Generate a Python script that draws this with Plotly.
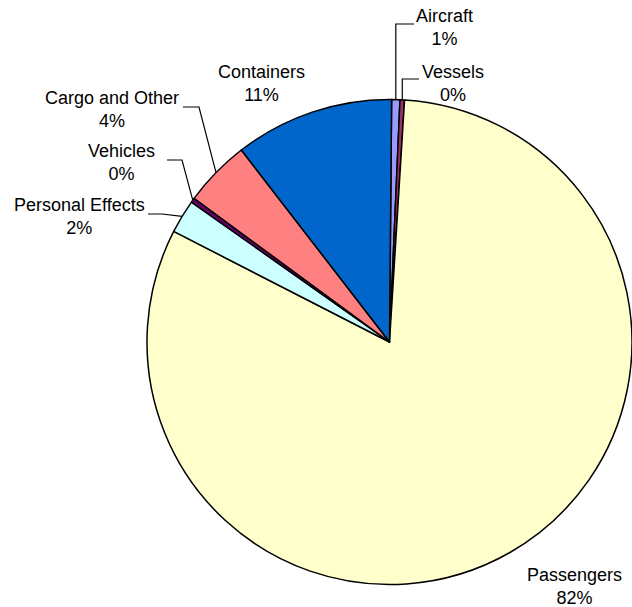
import math
import plotly.graph_objects as go

# Share of inspections by category (percent), in plotting order (clockwise from 12 o'clock)
categories = ["Aircraft", "Vessels", "Passengers", "Personal Effects",
              "Vehicles", "Cargo and Other", "Containers"]
shares = [0.55, 0.3, 81.55, 2.25, 0.3, 4.45, 10.6]
colors = ["#9999FF", "#993366", "#FFFFCC", "#CCFFFF", "#660066", "#FF8080", "#0066CC"]

W, H = 632, 607
START_DEG = 0.5

# pie placement in pixels
PIE_LEFT, PIE_RIGHT = 147, 632
CY = 342
R = (PIE_RIGHT - PIE_LEFT) / 2
CX = (PIE_LEFT + PIE_RIGHT) / 2

FONT = dict(family="Liberation Sans, Arial, sans-serif", size=18, color="#000000")

# label centres (px) and leader-line start/elbow points (px)
label_pos = {
    "Aircraft": (444, 27.5),
    "Vessels": (453, 84),
    "Containers": (261, 84),
    "Cargo and Other": (112, 109),
    "Vehicles": (121.5, 162.5),
    "Personal Effects": (79, 216),
    "Passengers": (574.5, 586),
}
leaders = {
    "Aircraft": {"start": (414, 24), "vertical": True},
    "Vessels": {"start": (419, 79), "vertical": True},
    "Cargo and Other": {"start": (183, 107), "elbow": (199, 107)},
    "Vehicles": {"start": (167, 160), "elbow": (182, 160)},
    "Personal Effects": {"start": (148, 214), "elbow": (162, 214)},
}


def px(x, y):
    return x / W, 1 - y / H


total = sum(shares)
mid_angle = {}
acc = 0.0
for name, v in zip(categories, shares):
    mid_angle[name] = START_DEG + (acc + v / 2) / total * 360
    acc += v

fig = go.Figure(go.Pie(
    labels=categories,
    values=shares,
    sort=False,
    direction="clockwise",
    rotation=START_DEG,
    marker=dict(colors=colors, line=dict(color="#000000", width=1.5)),
    textinfo="none",
    hoverinfo="label+percent",
    showlegend=False,
    domain=dict(x=[PIE_LEFT / W, PIE_RIGHT / W],
                y=[1 - (CY + R) / H, 1 - (CY - R) / H]),
))

annotations = []
for name, v in zip(categories, shares):
    lx, ly = label_pos[name]
    pct = round(v / total * 100)
    ax, ay = px(lx, ly)
    annotations.append(dict(
        x=ax, y=ay, xref="paper", yref="paper",
        text=f"{name}<br>{pct}%", showarrow=False,
        xanchor="center", yanchor="middle", font=FONT,
    ))

shapes = []
for name, spec in leaders.items():
    a = math.radians(mid_angle[name])
    tx, ty = CX + R * math.sin(a), CY - R * math.cos(a)
    sx, sy = spec["start"]
    if spec.get("vertical"):
        ex, ey = tx, sy
    else:
        ex, ey = spec["elbow"]
    pts = [px(sx, sy), px(ex, ey), px(tx, ty)]
    path = "M {} {} L {} {} L {} {}".format(*[c for p in pts for c in p])
    shapes.append(dict(type="path", path=path, xref="paper", yref="paper",
                       line=dict(color="#000000", width=1.2)))

fig.update_layout(
    width=W, height=H,
    margin=dict(l=0, r=0, t=0, b=0),
    paper_bgcolor="#FFFFFF",
    plot_bgcolor="#FFFFFF",
    annotations=annotations,
    shapes=shapes,
)

fig.write_html("out.html")
